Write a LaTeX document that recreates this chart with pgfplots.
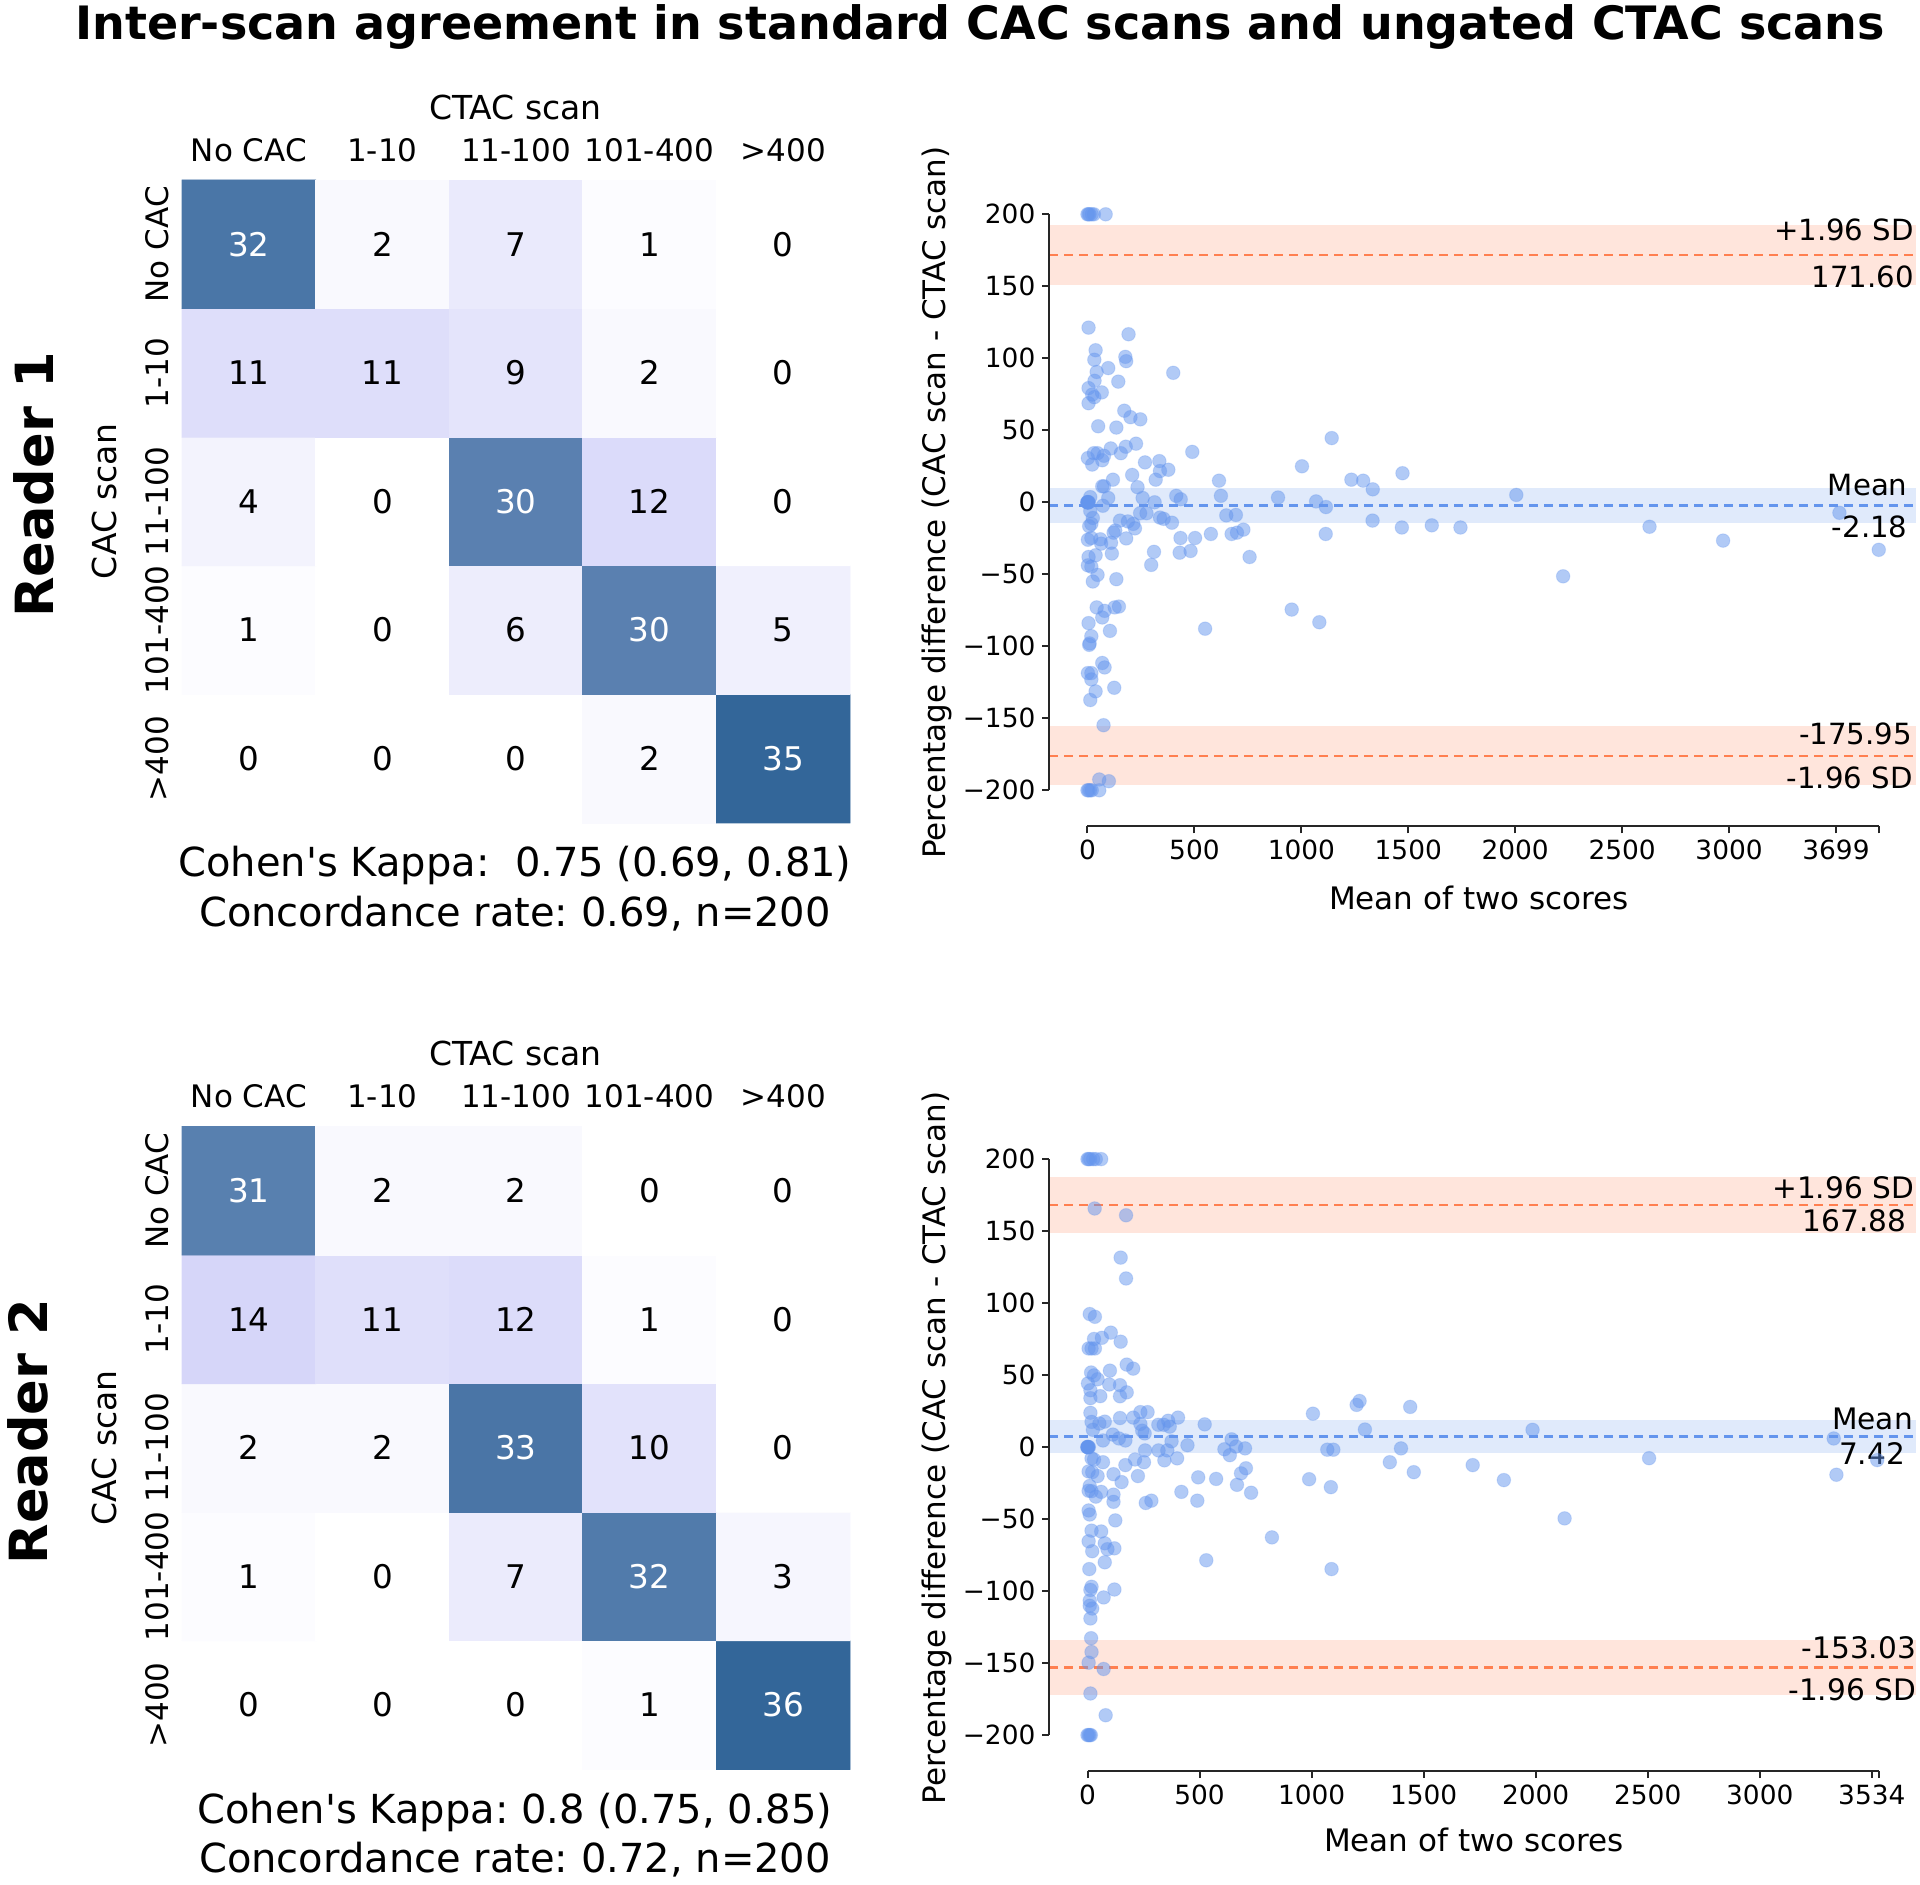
\documentclass[border=0pt]{standalone}
\usepackage{fontspec}
\setmainfont{DejaVu Sans}
\usepackage{pgfplots}
\usepackage{pgfplotstable}
\pgfplotsset{compat=1.18}
\definecolor{cornflower}{HTML}{6495ED}
\definecolor{coralc}{HTML}{FF7F50}
\definecolor{spine}{HTML}{262626}
\newcommand\fs[1]{\fontsize{#1}{#1}\selectfont}
\pgfplotsset{colormap={cacmap}{rgb255(0cm)=(255,255,255) rgb255(4cm)=(213,213,249) rgb255(10cm)=(51,102,153)}}
\tikzset{ann/.style={anchor=east, inner sep=0pt, font=\fs{#1}}}

% heatmaps: x = CTAC category, y = 4 - CAC category row
\pgfplotstableread{
x y c
0 0 0
1 0 0
2 0 0
3 0 2
4 0 35
0 1 1
1 1 0
2 1 6
3 1 30
4 1 5
0 2 4
1 2 0
2 2 30
3 2 12
4 2 0
0 3 11
1 3 11
2 3 9
3 3 2
4 3 0
0 4 32
1 4 2
2 4 7
3 4 1
4 4 0
}\heatA
\pgfplotstableread{
x y c
0 0 0
1 0 0
2 0 0
3 0 1
4 0 36
0 1 1
1 1 0
2 1 7
3 1 32
4 1 3
0 2 2
1 2 2
2 2 33
3 2 10
4 2 0
0 3 14
1 3 11
2 3 12
3 3 1
4 3 0
0 4 31
1 4 2
2 4 2
3 4 0
4 4 0
}\heatB

\pgfplotstableread{
x y
0 200
5 200
10 200
20 200
30 200
85 200
5 121.3
192 116.7
38 105.6
32 99
177 101
181 98
97 93.2
401 89.9
43 90.5
33 84.4
144 83.8
5 79.3
22 74.8
67 76.3
32 73
5 68.8
172 63.6
201 59.1
247 57.6
50 52.8
135 51.9
227 40.7
179 38.6
109 37.4
2 30.7
30 34.1
47 34.1
77 32.3
69 29.2
22 26.2
156 34.1
490 35
269 27.7
336 28.6
339 21.7
378 22.6
319 15.7
209 19
119 15.7
69 11.1
77 11.1
615 15
1003 25
1142 44.6
1234 15.7
1289 15
1334 9
1473 20.2
2005 5.1
234 10.5
258 3
314 0
415 4.5
436 2.1
624 4.5
891 3.3
1069 0.6
1115 -3.3
97 3
72 -2.4
0 0
0 0
2 0
4 0
0 0
6 0
13 3.6
13 -6
25 -10.9
18 -15
8 -16.6
152 -12.7
189 -13.3
214 -15
222 -18.1
130 -19.6
122 -21.1
181 -25.1
246 -7.6
276 -7.6
339 -10.6
356 -11.5
395 -14.2
435 -24.8
503 -24.8
577 -22
649 -9.1
694 -8.8
674 -22
699 -21.1
729 -19
758 -38
431 -35
482 -33.8
311 -34.4
298 -43.5
2 -26
18 -24.8
60 -25.7
64 -28.7
110 -28.1
114 -35.6
38 -36.8
5 -38
2 -43.8
18 -44.7
47 -50.4
25 -55
135 -53.4
1333 -12.7
1470 -17.5
1610 -16
1744 -17.5
1114 -22
2224 -51.4
955 -74.5
1084 -83.3
550 -87.8
43 -73
80 -75.4
69 -80
127 -73
147 -72.4
5 -83.9
105 -89.3
18 -93
10 -98
8 -99
2 -118.6
18 -118.6
18 -123
69 -111.6
80 -114.7
38 -131.3
13 -137.3
125 -128.8
75 -154.8
55 -192.5
100 -193.7
0 -200
5 -200
12 -200
20 -200
55 -200
2628 -17
2972 -26.6
3516 -7.3
3700 -33
}\baA

\pgfplotstableread{
x y
0 200
5 200
12 200
25 200
37 200
61 200
32 165.7
172 161
148 131.6
172 117.1
10 92.4
33 90.5
29 75.1
64 75.9
104 79.5
148 73.2
5 68.5
18 68.5
33 68.5
16 51.8
29 49.8
45 47.1
100 53.1
175 57.3
204 54.5
2 44.2
13 39.5
13 34
57 35.4
97 43.5
145 43
145 35.3
175 38
13 23.8
18 17.5
53 16.4
77 17.7
145 20.2
204 20.5
236 24.3
268 24.3
236 16.1
244 11.4
255 9.5
316 15.5
340 15.5
360 18.3
367 14.2
404 20.5
523 15.8
375 4
446 1.3
24 12
69 4.6
113 8.7
140 6
169 4.6
0 0
0 0
2 0
4 0
0 0
6 0
18 -7.8
29 -8.6
69 -10.5
5 -16.9
21 -17.4
45 -20.1
10 -27
5 -30.3
18 -30.6
37 -34.4
61 -31.1
116 -18.8
152 -24.3
116 -33
116 -38
169 -12.5
212 -8.6
225 -20.1
257 -2.3
252 -10.5
260 -38.8
285 -37.2
317 -2.3
343 -9.2
356 -2.3
400 -7.8
419 -31.1
494 -21
490 -37.2
574 -22.1
611 -1.5
635 -5.6
663 0.4
643 5.4
703 -0.9
707 -14.7
685 -18.2
667 -26.2
730 -31.7
124 -50.9
5 -44
10 -46.8
18 -58
61 -58.6
5 -65.4
21 -72.3
77 -66.8
89 -70.9
120 -70.3
77 -80
8 -84.7
18 -97
13 -99.2
120 -98.9
72 -104.4
10 -106.6
10 -110.2
21 -112.1
13 -119
16 -132.7
18 -142.3
5 -149.7
72 -154.1
13 -171.1
81 -186.2
0 -200
5 -200
10 -200
15 -200
823 -62.7
530 -78.6
1089 -84.7
1006 23.2
1201 29.3
1214 32
1238 12.2
1440 27.9
1070 -1.8
1097 -1.8
989 -22.3
1086 -27.8
1349 -10.5
1399 -0.9
1456 -17.4
1719 -12.5
1858 -22.9
1986 12
2129 -49.5
2506 -7.7
3330 6.0
3342 -19.2
3524 -9.0
}\baB

\pgfplotsset{
  heat/.style={
    scale only axis, width=334pt, height=321.5pt, anchor=south west,
    xmin=-0.5, xmax=4.5, ymin=-0.5, ymax=4.5,
    axis line style={draw=none}, major tick length=0pt, tick style={draw=none},
    xtick={0,...,4}, ytick={0,...,4},
    xticklabels={No CAC,1-10,11-100,101-400,>400},
    yticklabels={>400,101-400,11-100,1-10,No CAC},
    xticklabel pos=upper,
    xticklabel style={font=\fs{15.5}, anchor=center, yshift=15pt},
    yticklabel style={font=\fs{15.5}, rotate=90, anchor=center, yshift=12.3pt},
    colormap name=cacmap, clip=false,
  },
  cellnum/.style={only marks, mark=none, point meta=explicit symbolic, nodes near coords,
    unbounded coords=discard,
    every node near coord/.append style={anchor=center, font=\fs{16.3}}},
  ba/.style={
    scale only axis, width=433.5pt, height=324pt, anchor=south west,
    ymin=-225, ymax=225,
    axis x line*=bottom, axis y line*=left, axis line style={draw=none},
    tick align=outside, major tick length=3.5pt, tick style={line width=1pt, spine},
    ytick={-200,-150,...,200},
    yticklabels={−200,−150,−100,−50,0,50,100,150,200},
    ticklabel style={font=\fs{13.2}},
    /pgf/number format/assume math mode=true,
    clip=false,
  },
  pts/.style={only marks, mark=*, mark size=3.4pt, color=cornflower,
    mark options={draw=cornflower, draw opacity=0.25, line width=0.5pt, fill=cornflower, fill opacity=0.5}},
  lim/.style={coralc, line width=1.1pt, dash pattern=on 4.5pt off 3pt},
  mn/.style={cornflower, line width=1.1pt, dash pattern=on 4.5pt off 3pt},
}

\begin{document}
\frenchspacing
\begin{tikzpicture}
\path[use as bounding box] (0,0) rectangle (960pt,942pt);

\node[font=\fs{23}\bfseries, anchor=base] at (490pt,922pt) {Inter-scan agreement in standard CAC scans and ungated CTAC scans};
\node[font=\fs{26.3}\bfseries, rotate=90] at (17pt,699.5pt) {Reader 1};
\node[font=\fs{26.3}\bfseries, rotate=90] at (14pt,226.25pt) {Reader 2};

% ---------- heatmap reader 1
\begin{axis}[heat, at={(91pt,530.5pt)}, point meta min=0, point meta max=35]
\addplot[matrix plot*, mesh/cols=5, point meta=explicit] table[x=x, y=y, meta=c] {\heatA};
\addplot[cellnum, nodes near coords style={text=black}, restrict expr to domain={\thisrow{c}}{-1:25}] table[x=x, y=y, meta=c] {\heatA};
\addplot[cellnum, nodes near coords style={text=white}, restrict expr to domain={\thisrow{c}}{25:100}] table[x=x, y=y, meta=c] {\heatA};
\end{axis}
\node[font=\fs{16.5}] at (257.75pt,888.1pt) {CTAC scan};
\node[font=\fs{16.5}, rotate=90] at (52pt,691.25pt) {CAC scan};
\node[font=\fs{20}] at (257.5pt,509.15pt) {Cohen\textquotesingle s Kappa:\ \ 0.75 (0.69, 0.81)};
\node[font=\fs{20}] at (257.5pt,485.25pt) {Concordance rate: 0.69, n=200};

% ---------- heatmap reader 2
\begin{axis}[heat, at={(91pt,57.3pt)}, point meta min=0, point meta max=36]
\addplot[matrix plot*, mesh/cols=5, point meta=explicit] table[x=x, y=y, meta=c] {\heatB};
\addplot[cellnum, nodes near coords style={text=black}, restrict expr to domain={\thisrow{c}}{-1:25}] table[x=x, y=y, meta=c] {\heatB};
\addplot[cellnum, nodes near coords style={text=white}, restrict expr to domain={\thisrow{c}}{25:100}] table[x=x, y=y, meta=c] {\heatB};
\end{axis}
\node[font=\fs{16.5}] at (257.75pt,415.5pt) {CTAC scan};
\node[font=\fs{16.5}, rotate=90] at (52pt,218pt) {CAC scan};
\node[font=\fs{20}] at (257.5pt,36pt) {Cohen\textquotesingle s Kappa: 0.8 (0.75, 0.85)};
\node[font=\fs{20}] at (257.5pt,12pt) {Concordance rate: 0.72, n=200};

% ---------- Bland-Altman reader 1
\begin{axis}[ba, at={(524.7pt,528.85pt)}, xmin=-178, xmax=3876,
  xtick={0,500,1000,1500,2000,2500,3000,3500,3699},
  xticklabels={0,500,1000,1500,2000,2500,3000,3699,{}}]
\addplot[fill=coralc!20, draw=none] coordinates {(-178,150.6) (3876,150.6) (3876,192.6) (-178,192.6)};
\addplot[fill=coralc!20, draw=none] coordinates {(-178,-196.65) (3876,-196.65) (3876,-155.25) (-178,-155.25)};
\addplot[fill=cornflower!20, draw=none] coordinates {(-178,-14.38) (3876,-14.38) (3876,10.02) (-178,10.02)};
\addplot[lim] coordinates {(-178,171.6) (3876,171.6)};
\addplot[lim] coordinates {(-178,-175.95) (3876,-175.95)};
\addplot[mn] coordinates {(-178,-2.18) (3876,-2.18)};
\addplot[pts] table[x=x, y=y] {\baA};
\addplot[line width=1pt, spine] coordinates {(-178,-200) (-178,200)};
\addplot[line width=1pt, spine] coordinates {(0,-225) (3699,-225)};
\node[ann=14.6] at (axis cs:3866,189.1) {+1.96 SD};
\node[ann=14.6] at (axis cs:3866,156.6) {171.60};
\node[ann=14.6] at (axis cs:3836,11.9) {Mean};
\node[ann=14.6] at (axis cs:3836,-17) {-2.18};
\node[ann=14.6] at (axis cs:3856,-160.9) {-175.95};
\node[ann=14.6] at (axis cs:3860,-191.5) {-1.96 SD};
\end{axis}
\node[font=\fs{15.5}, rotate=90] at (468.35pt,690.65pt) {Percentage difference (CAC scan - CTAC scan)};
\node[font=\fs{15.5}] at (739.5pt,493.25pt) {Mean of two scores};

% ---------- Bland-Altman reader 2
\begin{axis}[ba, at={(524.7pt,56.45pt)}, xmin=-170, xmax=3699,
  xtick={0,500,1000,1500,2000,2500,3000,3500,3534},
  xticklabels={0,500,1000,1500,2000,2500,3000,3534,{}}]
\addplot[fill=coralc!20, draw=none] coordinates {(-170,148.38) (3699,148.38) (3699,187.38) (-170,187.38)};
\addplot[fill=coralc!20, draw=none] coordinates {(-170,-172.23) (3699,-172.23) (3699,-133.83) (-170,-133.83)};
\addplot[fill=cornflower!20, draw=none] coordinates {(-170,-3.88) (3699,-3.88) (3699,18.72) (-170,18.72)};
\addplot[lim] coordinates {(-170,167.88) (3699,167.88)};
\addplot[lim] coordinates {(-170,-153.03) (3699,-153.03)};
\addplot[mn] coordinates {(-170,7.42) (3699,7.42)};
\addplot[pts] table[x=x, y=y] {\baB};
\addplot[line width=1pt, spine] coordinates {(-170,-200) (-170,200)};
\addplot[line width=1pt, spine] coordinates {(0,-225) (3534,-225)};
\node[ann=14.8] at (axis cs:3690,180.4) {+1.96 SD};
\node[ann=14.8] at (axis cs:3655,157.5) {167.88};
\node[ann=14.8] at (axis cs:3685,19.7) {Mean};
\node[ann=14.8] at (axis cs:3650,-4.3) {7.42};
\node[ann=14.8] at (axis cs:3699,-139.5) {-153.03};
\node[ann=14.8] at (axis cs:3699,-168.5) {-1.96 SD};
\end{axis}
\node[font=\fs{15.5}, rotate=90] at (468.35pt,218pt) {Percentage difference (CAC scan - CTAC scan)};
\node[font=\fs{15.5}] at (737pt,21.8pt) {Mean of two scores};
\end{tikzpicture}
\end{document}
